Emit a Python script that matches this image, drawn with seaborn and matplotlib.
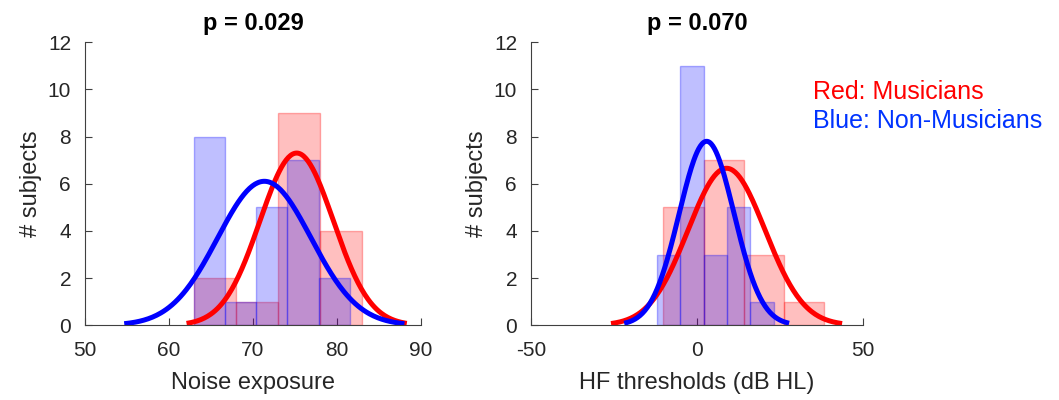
import numpy as np
import pandas as pd
import matplotlib
matplotlib.use("Agg")
import matplotlib.pyplot as plt
import seaborn as sns

# ---- data ----
# Left panel: Noise exposure
noise_mus_edges = [63.0, 68.0, 73.0, 78.0, 83.0]
noise_mus_counts = [2, 1, 9, 4]
noise_non_edges = [63.0, 66.7, 70.4, 74.1, 77.8, 81.5]
noise_non_counts = [8, 1, 5, 7, 2]
noise_mus_fit = (75.2, 4.37)   # mean, sd of normal fit
noise_non_fit = (71.35, 5.56)

# Right panel: HF thresholds
hf_mus_edges = [-10.1, 2.0, 14.1, 26.2, 38.3]
hf_mus_counts = [5, 7, 3, 1]
hf_non_edges = [-12.1, -5.0, 2.05, 9.0, 16.0, 23.1]
hf_non_counts = [3, 11, 3, 5, 1]
hf_mus_fit = (8.9, 11.6)
hf_non_fit = (2.9, 8.28)

titles = ["p = 0.029", "p = 0.070"]
xlabels = ["Noise exposure", "HF thresholds (dB HL)"]
xticks = [[50, 60, 70, 80, 90], [-50, 0, 50]]
xlims = [(50, 90), (-50, 50)]
yticks = [0, 2, 4, 6, 8, 10, 12]

sns.set_theme(style="white")
plt.rcParams["font.family"] = ["Liberation Sans", "DejaVu Sans"]
plt.rcParams["axes.unicode_minus"] = False

fig = plt.figure(figsize=(10.59, 4.0), dpi=100)
ax1 = fig.add_axes([85 / 1059, 1 - 325.3 / 400, 336 / 1059, 283 / 400])
ax2 = fig.add_axes([531 / 1059, 1 - 325.3 / 400, 332 / 1059, 283 / 400])

RED = (1, 0, 0)
BLUE = (0, 0, 1)
spine_col = "#404040"


def draw_hist(ax, edges, counts, color):
    edges = [float(e) for e in edges]
    centers = [(a + b) / 2 for a, b in zip(edges[:-1], edges[1:])]
    df = pd.DataFrame({"x": centers, "w": [float(c) for c in counts]})
    n0 = len(ax.patches)
    sns.histplot(data=df, x="x", weights="w", bins=edges, ax=ax,
                 stat="count", element="bars", linewidth=1.0)
    for p in ax.patches[n0:]:
        p.set_alpha(None)
        p.set_facecolor((*color, 0.25))
        p.set_edgecolor((*color, 0.3))


def draw_fit(ax, edges, counts, fit, color):
    mu, sd = fit
    bw = (edges[-1] - edges[0]) / (len(edges) - 1)
    n = sum(counts)
    xs = np.linspace(mu - 3 * sd, mu + 3 * sd, 200)
    ys = n * bw * np.exp(-0.5 * ((xs - mu) / sd) ** 2) / (sd * np.sqrt(2 * np.pi))
    sns.lineplot(x=xs, y=ys, ax=ax, color=color, linewidth=3.6,
                 solid_capstyle="butt", sort=False)


panels = [
    (ax1, noise_mus_edges, noise_mus_counts, noise_mus_fit,
     noise_non_edges, noise_non_counts, noise_non_fit),
    (ax2, hf_mus_edges, hf_mus_counts, hf_mus_fit,
     hf_non_edges, hf_non_counts, hf_non_fit),
]

for i, (ax, me, mc, mf, ne, nc, nf) in enumerate(panels):
    draw_hist(ax, me, mc, RED)
    draw_hist(ax, ne, nc, BLUE)
    draw_fit(ax, me, mc, mf, RED)
    draw_fit(ax, ne, nc, nf, BLUE)
    ax.set_xlim(*xlims[i])
    ax.set_ylim(0, 12)
    ax.set_xticks(xticks[i])
    ax.set_yticks(yticks)
    ax.set_xlabel(xlabels[i], fontsize=17, color="#262626", labelpad=9)
    ax.set_ylabel("# subjects", fontsize=17, color="#262626", labelpad=4)
    ax.set_title(titles[i], fontsize=17, fontweight="bold", pad=9, color="black")
    sns.despine(ax=ax)
    for s in ["left", "bottom"]:
        ax.spines[s].set_color(spine_col)
        ax.spines[s].set_linewidth(0.8)
    ax.tick_params(axis="both", direction="in", length=5, width=0.8,
                   color=spine_col, labelsize=15, labelcolor="#262626",
                   left=True, bottom=True)
    ax.tick_params(axis="x", pad=11)
    ax.tick_params(axis="y", pad=10)

fig.text(813 / 1059, 1 - 92 / 400, "Red: Musicians", color=RED,
         fontsize=18, va="center", ha="left")
fig.text(813 / 1059, 1 - 121 / 400, "Blue: Non-Musicians", color=(0, 0.2, 1),
         fontsize=18, va="center", ha="left")

fig.savefig("out.png", dpi=100)
